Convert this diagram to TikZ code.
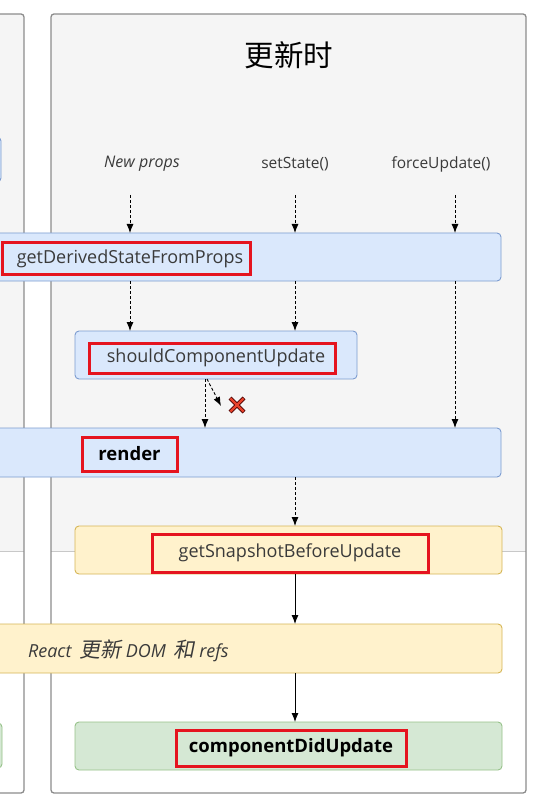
\documentclass[tikz,border=0pt]{standalone}
\usepackage{fontspec}
\setmainfont{Open Sans}
\newfontfamily\cjk{Noto Sans CJK SC}
\newfontfamily\cjkit[FakeSlant=0.2]{Noto Sans CJK SC}
\usetikzlibrary{arrows.meta}
\definecolor{panelgray}{HTML}{F5F5F5}
\definecolor{panelline}{HTML}{8C8C8C}
\definecolor{sepline}{HTML}{C8C8C8}
\definecolor{bluefill}{HTML}{DAE8FC}
\definecolor{blueline}{HTML}{7C9CD0}
\definecolor{yellowfill}{HTML}{FFF2CC}
\definecolor{yellowline}{HTML}{D6B656}
\definecolor{greenfill}{HTML}{D5E8D4}
\definecolor{greenline}{HTML}{97C28A}
\definecolor{annot}{HTML}{E5141F}
\definecolor{txt}{HTML}{3A3A3A}
\definecolor{xred}{HTML}{E8412A}
\begin{document}
\begin{tikzpicture}[x=1pt,y=-1pt,
  every node/.style={inner sep=0pt, outer sep=0pt},
  box/.style={rounded corners=4pt, line width=0.9pt},
  bluebox/.style={box, draw=blueline, fill=bluefill},
  yellowbox/.style={box, draw=yellowline, fill=yellowfill},
  greenbox/.style={box, draw=greenline, fill=greenfill},
  redbox/.style={draw=annot, line width=3pt, text=txt, font=\fontsize{18}{21}\selectfont},
  boldtext/.style={font=\fontsize{18.5}{21}\selectfont\bfseries, text=black},
  lbl/.style={text=txt, font=\fontsize{15.5}{18}\selectfont},
  panel/.style={draw=panelline, line width=1.3pt, rounded corners=3pt},
  darr/.style={line width=0.9pt, dash pattern=on 3pt off 2pt, -{Latex[length=9pt,width=7pt]}},
  sarr/.style={line width=0.9pt, -{Latex[length=9pt,width=7pt]}},
]
\useasboundingbox (0,0) rectangle (547,799);
% panels
\begin{scope}
  \clip[rounded corners=3pt] (-30,14) rectangle (24,793);
  \fill[white] (-30,14) rectangle (24,793);
  \fill[panelgray] (-30,14) rectangle (24,551);
  \draw[sepline, line width=1pt] (-30,551) -- (24,551);
\end{scope}
\draw[panel] (-30,14) rectangle (24,793);
\begin{scope}
  \clip[rounded corners=3pt] (51,14) rectangle (526,793);
  \fill[white] (51,14) rectangle (526,793);
  \fill[panelgray] (51,14) rectangle (526,551);
  \draw[sepline, line width=1pt] (51,551) -- (526,551);
\end{scope}
\draw[panel] (51,14) rectangle (526,793);

% title and labels
\node[font=\cjk\fontsize{29.5}{33}\selectfont, text=black] (title) at (289,55) {更新时};
\node[lbl, font=\fontsize{16}{18}\selectfont\itshape] (np) at (142,164) {New props};
\node[lbl] (ss) at (295,164) {setState()};
\node[lbl] (fu) at (441,164) {forceUpdate()};

% boxes
\node[bluebox, minimum width=31pt, minimum height=45pt] (lblue) at (-14.5,159.5) {};
\node[greenbox, minimum width=32pt, minimum height=45pt] (lgreen) at (-14,745.5) {};
\node[bluebox, minimum width=521pt, minimum height=48pt] (gdsfp) at (240.5,257) {};
\node[bluebox, minimum width=282pt, minimum height=48pt] (scu) at (216,355) {};
\node[bluebox, minimum width=521pt, minimum height=49pt] (render) at (240.5,452.5) {};
\node[yellowbox, minimum width=427pt, minimum height=48pt] (gsbu) at (288.5,550) {};
\node[yellowbox, minimum width=522pt, minimum height=49pt] (dom) at (241,648.5) {};
\node[greenbox, minimum width=427pt, minimum height=48pt] (cdu) at (288.5,746) {};

% texts with red annotation frames
\node[redbox, minimum width=248pt, minimum height=31pt] (r1) at (126,258.5) {\hspace*{8pt}\raisebox{-2pt}{getDerivedStateFromProps}};
\node[redbox, minimum width=246pt, minimum height=30pt] (r2) at (212,358) {\hspace*{8pt}\raisebox{-1.5pt}{shouldComponentUpdate}};
\node[redbox, boldtext, minimum width=95pt, minimum height=34pt] (r3) at (129.5,454) {\raisebox{-1.5pt}{render}};
\node[redbox, minimum width=276pt, minimum height=38pt] (r4) at (290,553) {\raisebox{-1pt}{getSnapshotBeforeUpdate}};
\node[redbox, boldtext, minimum width=230pt, minimum height=36pt] (r5) at (291,748) {\raisebox{-1pt}{componentDidUpdate}};
\node[anchor=west, text=txt, font=\fontsize{18}{21}\selectfont\itshape] (domtxt) at (28,651) {React\, {\cjkit\fontsize{21}{22}\selectfont 更新} DOM\, {\cjkit\fontsize{21}{22}\selectfont 和} refs};

% arrows
\coordinate (a1) at (130,195);
\coordinate (a2) at (295,195);
\coordinate (a3) at (455,195);
\coordinate (a4) at (205,0);
\coordinate (xtip) at (221,406);
\draw[darr] (a1) -- (a1 |- gdsfp.north);
\draw[darr] (a2) -- (a2 |- gdsfp.north);
\draw[darr] (a3) -- (a3 |- gdsfp.north);
\draw[darr] (gdsfp.south -| a1) -- (scu.north -| a1);
\draw[darr] (gdsfp.south -| a2) -- (scu.north -| a2);
\draw[darr] (gdsfp.south -| a3) -- (render.north -| a3);
\draw[darr] (scu.south -| a4) -- (render.north -| a4);
\draw[darr] ([xshift=2pt]scu.south -| a4) -- (xtip);
\draw[darr] (render.south -| a2) -- (gsbu.north -| a2);
\draw[sarr] (gsbu.south -| a2) -- (dom.north -| a2);
\draw[sarr] (dom.south -| a2) -- (cdu.north -| a2);

% red cross
\coordinate (xm) at (237,405);
\foreach \s in {1,-1}{
  \draw[line width=4.2pt, black!70!red] ([shift={(-7,-7*\s)}]xm) -- ([shift={(7,7*\s)}]xm);
}
\foreach \s in {1,-1}{
  \draw[line width=2.4pt, xred] ([shift={(-6.6,-6.6*\s)}]xm) -- ([shift={(6.6,6.6*\s)}]xm);
}
\end{tikzpicture}
\end{document}
